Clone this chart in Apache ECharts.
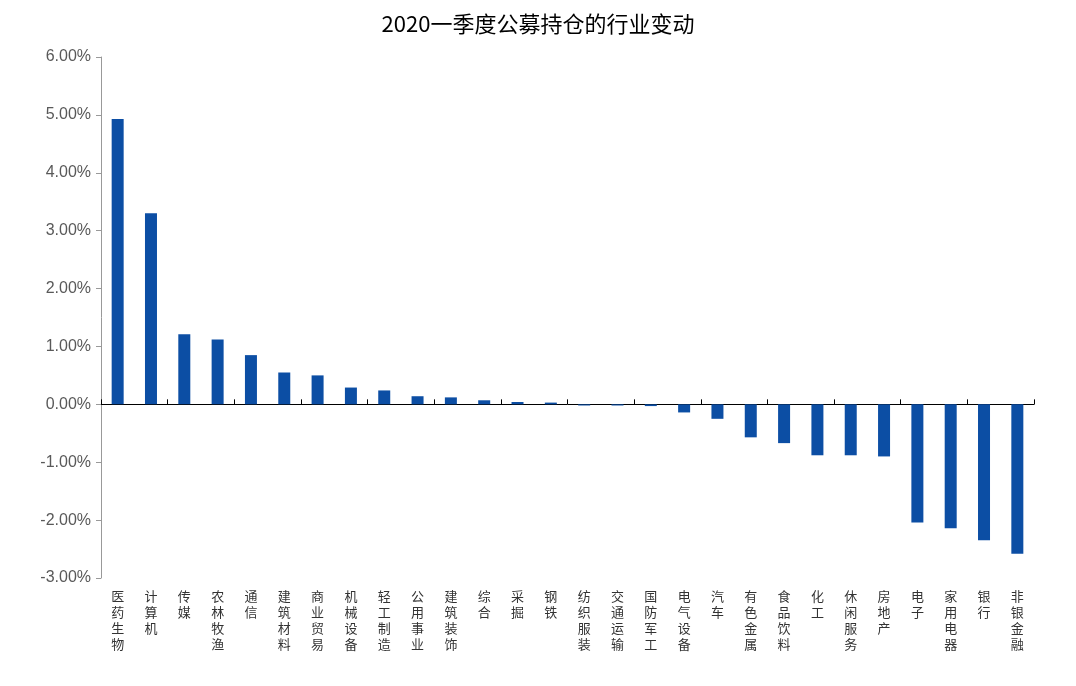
<!DOCTYPE html>
<html><head><meta charset="utf-8">
<script src="https://cdn.jsdelivr.net/npm/echarts@6/dist/echarts.min.js"></script>
<style>html,body{margin:0;padding:0;background:#fff}#c{width:1076px;height:686px}</style>
</head><body><div id="c"></div>
<script>
const categories=['医药生物','计算机','传媒','农林牧渔','通信','建筑材料','商业贸易','机械设备','轻工制造','公用事业','建筑装饰','综合','采掘','钢铁','纺织服装','交通运输','国防军工','电气设备','汽车','有色金属','食品饮料','化工','休闲服务','房地产','电子','家用电器','银行','非银金融'];
const values=[4.93,3.30,1.21,1.12,0.85,0.55,0.50,0.29,0.24,0.14,0.12,0.07,0.04,0.03,-0.02,-0.02,-0.03,-0.14,-0.25,-0.57,-0.67,-0.88,-0.88,-0.90,-2.04,-2.14,-2.35,-2.58];
const chart=echarts.init(document.getElementById('c'));
chart.setOption({
 animation:false,
 title:{text:'2020一季度公募持仓的行业变动',left:'center',top:8,textStyle:{fontFamily:'Noto Sans CJK SC',fontWeight:'normal',fontSize:22,color:'#000'}},
 grid:{left:101,right:42,top:57,bottom:108},
 xAxis:[{type:'category',data:categories,position:'bottom',axisLine:{onZero:false,show:false},axisTick:{show:false},
   axisLabel:{interval:0,margin:10,fontFamily:'Noto Sans CJK SC',fontSize:13,color:'#333',lineHeight:16,verticalAlign:'top',formatter:v=>v.split('').join('\n')}},
  {type:'category',data:categories,axisLine:{onZero:true,lineStyle:{color:'#000',width:1}},axisTick:{show:true,inside:false,length:5,lineStyle:{color:'#000'}},axisLabel:{show:false}}],
 yAxis:{type:'value',min:-3,max:6,interval:1,splitLine:{show:false},axisLine:{show:true,lineStyle:{color:'#999'}},axisTick:{show:true,length:5,lineStyle:{color:'#999'}},
  axisLabel:{formatter:v=>v.toFixed(2)+'%',fontFamily:'Liberation Sans',fontSize:16,color:'#595959',margin:10}},
 series:[{type:'bar',data:values,barWidth:12,itemStyle:{color:'#0c4ea4'}}]
});
</script></body></html>
